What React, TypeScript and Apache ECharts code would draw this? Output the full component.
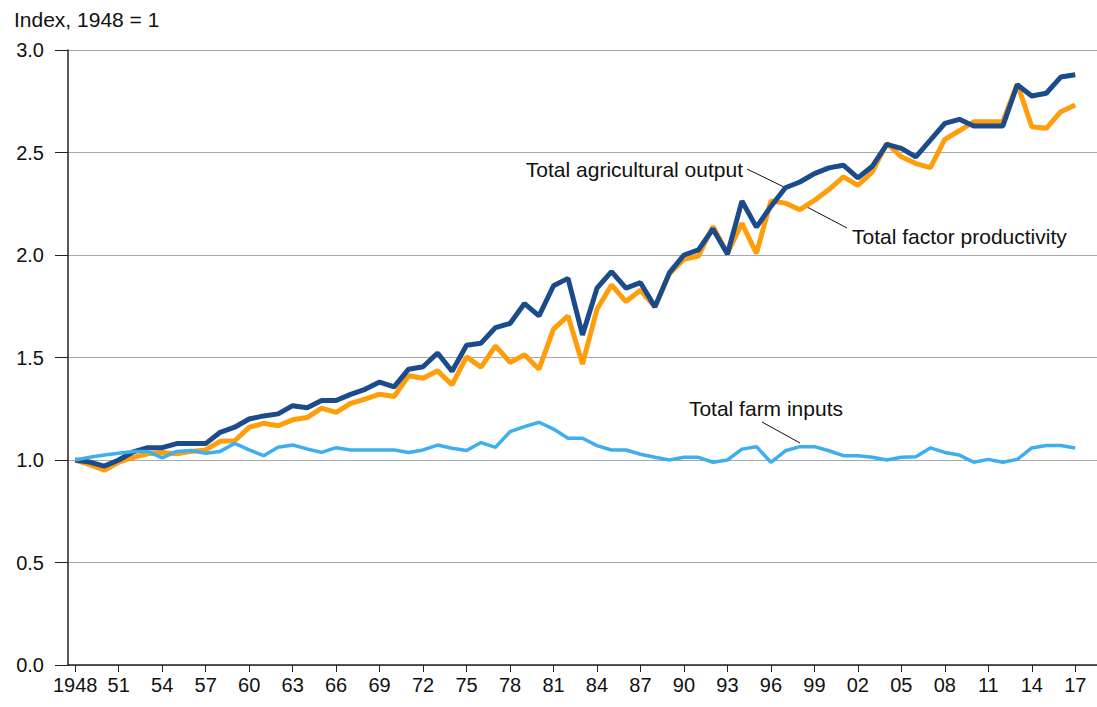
import { useEffect, useRef } from "react";
import * as echarts from "echarts";

const years = [
  "1948","1949","1950","1951","1952","1953","1954","1955","1956","1957",
  "1958","1959","1960","1961","1962","1963","1964","1965","1966","1967",
  "1968","1969","1970","1971","1972","1973","1974","1975","1976","1977",
  "1978","1979","1980","1981","1982","1983","1984","1985","1986","1987",
  "1988","1989","1990","1991","1992","1993","1994","1995","1996","1997",
  "1998","1999","2000","2001","2002","2003","2004","2005","2006","2007",
  "2008","2009","2010","2011","2012","2013","2014","2015","2016","2017",
  "2018",
];

const totalOutput = [
  1.0, 0.99, 0.97, 1.0, 1.04, 1.06, 1.06, 1.08, 1.08, 1.08,
  1.135, 1.16, 1.2, 1.215, 1.225, 1.265, 1.255, 1.29, 1.29, 1.32,
  1.345, 1.38, 1.357, 1.443, 1.455, 1.522, 1.433, 1.56, 1.57, 1.646,
  1.666, 1.763, 1.703, 1.85, 1.886, 1.61, 1.838, 1.919, 1.838, 1.865,
  1.747, 1.914, 2.0, 2.025, 2.127, 2.005, 2.263, 2.136, 2.237, 2.328,
  2.356, 2.397, 2.425, 2.438, 2.376, 2.433, 2.54, 2.52, 2.479, 2.56,
  2.642, 2.662, 2.629, 2.629, 2.629, 2.83, 2.776, 2.789, 2.868, 2.879,
];

const tfp = [
  1.0, 0.977, 0.95, 0.989, 1.013, 1.03, 1.037, 1.03, 1.042, 1.049,
  1.091, 1.094, 1.159, 1.179, 1.167, 1.196, 1.207, 1.253, 1.232, 1.276,
  1.297, 1.321, 1.31, 1.411, 1.399, 1.435, 1.367, 1.503, 1.453, 1.557,
  1.476, 1.513, 1.443, 1.638, 1.703, 1.468, 1.735, 1.854, 1.773, 1.828,
  1.747, 1.909, 1.979, 1.995, 2.139, 2.008, 2.155, 2.008, 2.263, 2.253,
  2.221, 2.266, 2.319, 2.381, 2.34, 2.405, 2.545, 2.479, 2.446, 2.426,
  2.564, 2.606, 2.65, 2.65, 2.65, 2.835, 2.626, 2.618, 2.699, 2.732,
];

const farmInputs = [
  1.0, 1.013, 1.024, 1.033, 1.042, 1.042, 1.01, 1.042, 1.046, 1.033,
  1.042, 1.081, 1.049, 1.021, 1.062, 1.073, 1.054, 1.037, 1.06, 1.049,
  1.049, 1.049, 1.049, 1.037, 1.049, 1.073, 1.057, 1.046, 1.085, 1.062,
  1.138, 1.163, 1.184, 1.151, 1.106, 1.106, 1.07, 1.049, 1.049, 1.028,
  1.013, 1.0, 1.013, 1.013, 0.989, 1.0, 1.053, 1.065, 0.989, 1.045,
  1.065, 1.065, 1.045, 1.021, 1.021, 1.013, 1.0, 1.013, 1.016, 1.059,
  1.037, 1.024, 0.989, 1.003, 0.989, 1.003, 1.059, 1.071, 1.071, 1.059,
];

const FONT = '"Liberation Sans", Arial, Helvetica, sans-serif';

export default function App() {
  const ref = useRef<HTMLDivElement>(null);

  useEffect(() => {
    if (!ref.current) return;
    const chart = echarts.init(ref.current, undefined, { renderer: "svg" });
    const textStyle = (text: string, x: number, y: number, align: string) => ({
      type: "text",
      silent: true,
      style: {
        text,
        x,
        y,
        font: `21px ${FONT}`,
        fill: "#111",
        textAlign: align,
        textVerticalAlign: "middle",
      },
    });
    const leader = (x1: number, y1: number, x2: number, y2: number) => ({
      type: "line",
      silent: true,
      shape: { x1, y1, x2, y2 },
      style: { stroke: "#111", lineWidth: 1 },
    });
    chart.setOption({
      animation: false,
      backgroundColor: "#fff",
      textStyle: { fontFamily: FONT },
      grid: { left: 68, right: 0, top: 50, bottom: 42, containLabel: false },
      xAxis: {
        type: "category",
        data: years,
        boundaryGap: true,
        axisLine: { show: true, lineStyle: { color: "#222", width: 1.5 } },
        axisTick: {
          show: true,
          alignWithLabel: true,
          interval: 2,
          length: 7,
          lineStyle: { color: "#222", width: 1 },
        },
        axisLabel: {
          interval: 2,
          margin: 10,
          fontSize: 20,
          color: "#111",
          fontFamily: FONT,
          formatter: (v: string, i: number) => (i === 0 ? v : v.slice(2)),
        },
        splitLine: { show: false },
      },
      yAxis: {
        type: "value",
        min: 0,
        max: 3,
        interval: 0.5,
        axisLine: { show: true, lineStyle: { color: "#222", width: 1.5 } },
        axisTick: { show: true, inside: false, length: 13, lineStyle: { color: "#222" } },
        axisLabel: {
          margin: 24,
          fontSize: 20,
          color: "#111",
          fontFamily: FONT,
          formatter: (v: number) => v.toFixed(1),
        },
        splitLine: { show: true, lineStyle: { color: "#a8a8a8", width: 1.2 } },
      },
      series: [
        {
          name: "Total factor productivity",
          type: "line",
          data: tfp,
          symbol: "none",
          lineStyle: { color: "#FF9E0B", width: 5 },
          itemStyle: { color: "#FF9E0B" },
          z: 2,
        },
        {
          name: "Total agricultural output",
          type: "line",
          data: totalOutput,
          symbol: "none",
          lineStyle: { color: "#1C4B8C", width: 5 },
          itemStyle: { color: "#1C4B8C" },
          z: 3,
        },
        {
          name: "Total farm inputs",
          type: "line",
          data: farmInputs,
          symbol: "none",
          lineStyle: { color: "#3FAEEC", width: 3.5 },
          itemStyle: { color: "#3FAEEC" },
          z: 4,
        },
      ],
      graphic: [
        textStyle("Index, 1948 = 1", 14, 19.5, "left"),
        textStyle("Total agricultural output", 743, 169.5, "right"),
        textStyle("Total factor productivity", 852, 236.5, "left"),
        textStyle("Total farm inputs", 843, 408.5, "right"),
        leader(747, 169, 786, 188),
        leader(807, 207, 847, 228),
        leader(762, 422, 800, 443),
      ],
    });
    return () => chart.dispose();
  }, []);

  return (
    <div
      ref={ref}
      style={{ position: "fixed", left: 0, top: 0, width: 1097, height: 707, background: "#fff" }}
    />
  );
}
